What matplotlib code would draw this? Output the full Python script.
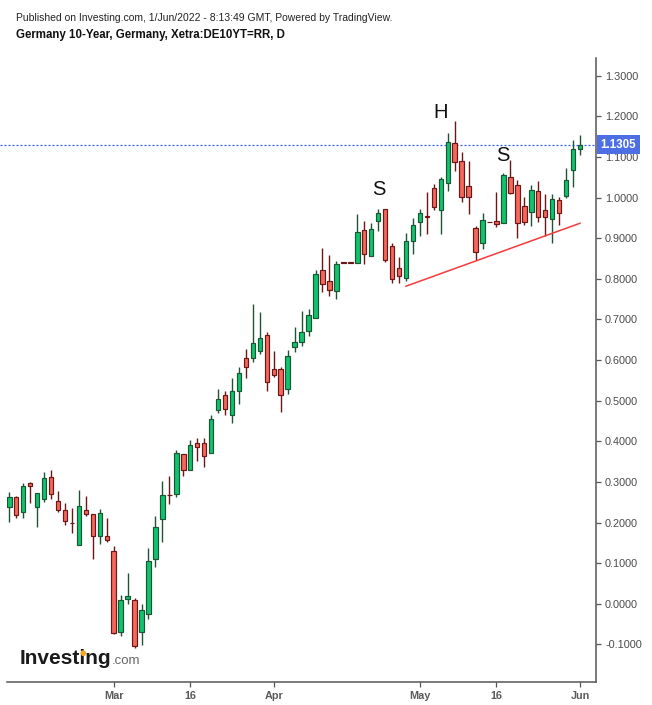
import matplotlib
matplotlib.use('Agg')
import matplotlib.pyplot as plt
import matplotlib.transforms as mtransforms
import numpy as np

plt.rcParams['font.family'] = ['Liberation Sans', 'DejaVu Sans']

# ---------------- data (daily OHLC, Germany 10Y yield) ----------------
opens = [0.239, 0.262, 0.227, 0.297, 0.238, 0.257, 0.311, 0.252, 0.230, 0.199,
         0.144, 0.230, 0.220, 0.168, 0.166, 0.130, -0.070, 0.012, 0.009, -0.070,
         -0.025, 0.110, 0.208, 0.268, 0.270, 0.368, 0.329, 0.397, 0.397, 0.370,
         0.476, 0.515, 0.464, 0.523, 0.606, 0.604, 0.623, 0.663, 0.579, 0.579,
         0.528, 0.633, 0.645, 0.672, 0.704, 0.822, 0.795, 0.771, 0.840, 0.840,
         0.840, 0.921, 0.857, 0.943, 0.972, 0.881, 0.827, 0.803, 0.894, 0.940,
         0.956, 1.024, 0.970, 1.036, 1.134, 1.090, 1.029, 0.926, 0.889, 0.939,
         0.943, 0.938, 1.051, 1.031, 0.980, 0.965, 1.016, 0.970, 0.948, 0.994,
         1.004, 1.068, 1.120]
highs = [0.275, 0.265, 0.297, 0.300, 0.272, 0.324, 0.329, 0.278, 0.247, 0.235,
         0.280, 0.265, 0.220, 0.233, 0.211, 0.143, 0.022, 0.076, 0.014, 0.000,
         0.138, 0.215, 0.302, 0.314, 0.378, 0.368, 0.403, 0.407, 0.407, 0.464,
         0.528, 0.523, 0.555, 0.584, 0.628, 0.739, 0.719, 0.670, 0.623, 0.584,
         0.626, 0.682, 0.722, 0.727, 0.821, 0.876, 0.859, 0.844, 0.840, 0.840,
         0.960, 0.943, 0.938, 0.972, 0.972, 0.889, 0.853, 0.914, 0.951, 0.972,
         1.015, 1.034, 1.051, 1.159, 1.188, 1.112, 1.090, 0.930, 0.962, 0.939,
         1.014, 1.061, 1.093, 1.043, 1.002, 1.031, 1.041, 1.009, 1.009, 1.002,
         1.074, 1.142, 1.155]
lows = [0.202, 0.210, 0.212, 0.249, 0.190, 0.251, 0.259, 0.226, 0.195, 0.174,
        0.144, 0.215, 0.111, 0.146, 0.152, -0.075, -0.080, -0.001, -0.110, -0.102,
        -0.038, 0.090, 0.151, 0.246, 0.264, 0.315, 0.329, 0.352, 0.337, 0.370,
        0.469, 0.464, 0.444, 0.493, 0.557, 0.596, 0.614, 0.525, 0.559, 0.473,
        0.517, 0.621, 0.635, 0.660, 0.704, 0.768, 0.758, 0.751, 0.840, 0.840,
        0.840, 0.837, 0.857, 0.918, 0.842, 0.790, 0.789, 0.796, 0.862, 0.906,
        0.911, 0.970, 0.911, 1.017, 1.066, 0.989, 0.960, 0.847, 0.874, 0.939,
        0.928, 0.938, 1.009, 0.901, 0.933, 0.930, 0.940, 0.906, 0.889, 0.933,
        0.999, 1.027, 1.105]
closes = [0.262, 0.218, 0.290, 0.289, 0.272, 0.309, 0.270, 0.230, 0.203, 0.199,
          0.240, 0.222, 0.168, 0.224, 0.156, -0.072, 0.009, 0.019, -0.105, -0.015,
          0.105, 0.189, 0.267, 0.268, 0.370, 0.329, 0.392, 0.387, 0.365, 0.456,
          0.503, 0.479, 0.525, 0.569, 0.582, 0.641, 0.655, 0.545, 0.564, 0.515,
          0.609, 0.645, 0.668, 0.711, 0.813, 0.788, 0.773, 0.837, 0.840, 0.840,
          0.916, 0.862, 0.923, 0.962, 0.847, 0.800, 0.807, 0.894, 0.933, 0.962,
          0.952, 0.977, 1.046, 1.137, 1.088, 1.002, 1.002, 0.867, 0.945, 0.939,
          0.935, 1.056, 1.011, 0.938, 0.940, 1.019, 0.953, 0.953, 0.997, 0.963,
          1.043, 1.120, 1.130]

tick_labels = ['Mar', '16', 'Apr', 'May', '16', 'Jun']
tick_idx = [15, 26, 38, 59, 70, 82]
y_ticks = [-0.1, 0.0, 0.1, 0.2, 0.3, 0.4, 0.5, 0.6, 0.7, 0.8, 0.9, 1.0, 1.1, 1.2, 1.3]
last_price = 1.1305
trend_x = [57, 82]
trend_y = [0.782, 0.937]
pattern_labels = ['S', 'H', 'S']
pattern_x = [53.1, 62.0, 70.9]
pattern_y = [1.019, 1.211, 1.105]

title_line1 = 'Published on Investing.com, 1/Jun/2022 - 8:13:49 GMT, Powered by TradingView.'
title_line2 = 'Germany 10-Year, Germany, Xetra:DE10YT=RR, D'

# ---------------- figure ----------------
W, H = 652, 705
fig = plt.figure(figsize=(W / 100, H / 100), dpi=100)
ax_l, ax_r, ax_b, ax_t = 7, 596, 681.7, 58
ax = fig.add_axes([ax_l / W, (H - ax_b) / H, (ax_r - ax_l) / W, (ax_b - ax_t) / H])

o = np.array(opens); h = np.array(highs); l = np.array(lows); c = np.array(closes)
x = np.arange(len(o))
up = c > o

UP_FILL, UP_EDGE = '#10c46d', '#1b5534'
DN_FILL, DN_EDGE = '#f4675a', '#6b1717'

ax.vlines(x, l, h, colors=np.where(up, UP_EDGE, DN_EDGE), linewidth=1.0, zorder=2)
ax.bar(x, np.maximum(np.abs(c - o), 0.0004), bottom=np.minimum(o, c), width=0.64,
       color=np.where(up, UP_FILL, DN_FILL), edgecolor=np.where(up, UP_EDGE, DN_EDGE),
       linewidth=0.85, zorder=3)

# trend line
ax.plot(trend_x, trend_y, color='#f23b3b', linewidth=1.1, zorder=4)

# pattern labels
for t, px, py in zip(pattern_labels, pattern_x, pattern_y):
    ax.text(px, py, t, fontsize=14.5, color='#111111', ha='center', va='center', zorder=5)

ax.set_xlim(-0.33, 84.3)
ax.set_ylim(-0.192, 1.344)

# last price line (extends to the left edge of the picture)
ax.plot([-1.4, 84.3], [last_price, last_price], color='#2f5fe8', linewidth=0.9,
        linestyle=(0, (1.6, 1.6)), zorder=1, clip_on=False)

for s in ['left', 'top']:
    ax.spines[s].set_visible(False)
for s in ['right', 'bottom']:
    ax.spines[s].set_color('#555555')
    ax.spines[s].set_linewidth(1.1)

ax.yaxis.tick_right()
ax.set_yticks(y_ticks)
ax.set_yticklabels(['%.4f' % v for v in y_ticks])
ax.tick_params(axis='y', direction='out', length=3.5, width=0.9, color='#555555',
               labelsize=7.8, labelcolor='#4a4a4a', pad=3)
ax.set_xticks(tick_idx)
ax.set_xticklabels(tick_labels)
ax.tick_params(axis='x', direction='out', length=3.5, width=0.9, color='#555555',
               labelsize=7.8, labelcolor='#5a5a5a', pad=3)
for lab in ax.get_xticklabels():
    lab.set_fontweight('bold')

# price box
trans = mtransforms.blended_transform_factory(ax.transAxes, ax.transData)
ax.text(1.0 + 4.5 / (ax_r - ax_l), last_price, '%.4f' % last_price, transform=trans,
        ha='left', va='center', fontsize=8.3, color='white', fontweight='bold',
        bbox=dict(boxstyle='square,pad=0.3', fc='#4d6fe3', ec='none'),
        zorder=10, clip_on=False)

# titles
fig.text(15.5 / W, 1 - 21 / H, title_line1, fontsize=7.45, color='#222222', va='baseline')
fig.text(15.5 / W, 1 - 37.8 / H, title_line2, fontsize=8.3, color='#111111',
         fontweight='bold', va='baseline')

# Investing.com logo
logo = fig.text(20 / W, 1 - 664 / H, 'Investing', fontsize=15, fontweight='bold',
                color='#1a1a1a', va='baseline')
fig.canvas.draw()
r = fig.canvas.get_renderer()
bb = logo.get_window_extent(r)
fig.text(bb.x1 / W + 0.5 / W, 1 - 664 / H, '.com', fontsize=9.5, color='#666666', va='baseline')
tmp = fig.text(20 / W, 1 - 664 / H, 'Invest', fontsize=15, fontweight='bold', va='baseline')
bb2 = tmp.get_window_extent(r)
tmp2 = fig.text(20 / W, 1 - 664 / H, 'Investi', fontsize=15, fontweight='bold', va='baseline')
bb3 = tmp2.get_window_extent(r)
tmp.remove(); tmp2.remove()
dot_x = (bb2.x1 + bb3.x1) / 2
dot_y = bb.y0 + (bb.y1 - bb.y0) * 0.78
fig.add_artist(plt.Circle((dot_x / W, dot_y / H), 2.2 / H, transform=fig.transFigure,
                          color='#f5a623', zorder=20))

fig.savefig('out.png', dpi=100)
